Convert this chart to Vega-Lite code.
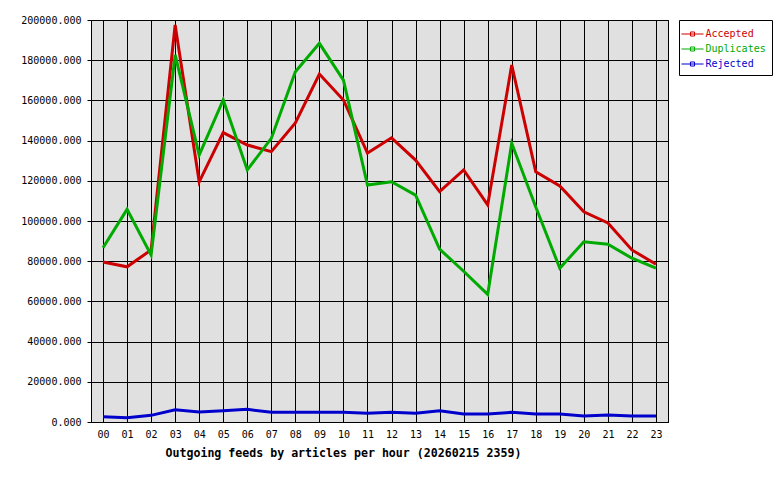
{
  "$schema": "https://vega.github.io/schema/vega-lite/v6.json",
  "width": 577,
  "height": 402,
  "autosize": "none",
  "padding": {"left": 91, "top": 20, "right": 112, "bottom": 58},
  "background": "white",
  "config": {
    "view": {"stroke": "black", "strokeWidth": 1, "fill": "#e0e0e0"},
    "font": "DejaVu Sans Mono"
  },
  "data": {
    "values": [
      {"hour": "00", "series": "Accepted", "value": 79600},
      {"hour": "01", "series": "Accepted", "value": 77200},
      {"hour": "02", "series": "Accepted", "value": 85600},
      {"hour": "03", "series": "Accepted", "value": 197500},
      {"hour": "04", "series": "Accepted", "value": 119500},
      {"hour": "05", "series": "Accepted", "value": 144000},
      {"hour": "06", "series": "Accepted", "value": 137800},
      {"hour": "07", "series": "Accepted", "value": 134500},
      {"hour": "08", "series": "Accepted", "value": 148800},
      {"hour": "09", "series": "Accepted", "value": 173100},
      {"hour": "10", "series": "Accepted", "value": 160200},
      {"hour": "11", "series": "Accepted", "value": 133800},
      {"hour": "12", "series": "Accepted", "value": 141400},
      {"hour": "13", "series": "Accepted", "value": 130300},
      {"hour": "14", "series": "Accepted", "value": 114600},
      {"hour": "15", "series": "Accepted", "value": 125400},
      {"hour": "16", "series": "Accepted", "value": 108000},
      {"hour": "17", "series": "Accepted", "value": 177600},
      {"hour": "18", "series": "Accepted", "value": 124500},
      {"hour": "19", "series": "Accepted", "value": 117400},
      {"hour": "20", "series": "Accepted", "value": 104600},
      {"hour": "21", "series": "Accepted", "value": 99000},
      {"hour": "22", "series": "Accepted", "value": 85600},
      {"hour": "23", "series": "Accepted", "value": 78500},
      {"hour": "00", "series": "Duplicates", "value": 86700},
      {"hour": "01", "series": "Duplicates", "value": 105800},
      {"hour": "02", "series": "Duplicates", "value": 83100},
      {"hour": "03", "series": "Duplicates", "value": 182600},
      {"hour": "04", "series": "Duplicates", "value": 132800},
      {"hour": "05", "series": "Duplicates", "value": 160200},
      {"hour": "06", "series": "Duplicates", "value": 125400},
      {"hour": "07", "series": "Duplicates", "value": 141100},
      {"hour": "08", "series": "Duplicates", "value": 174300},
      {"hour": "09", "series": "Duplicates", "value": 188400},
      {"hour": "10", "series": "Duplicates", "value": 170100},
      {"hour": "11", "series": "Duplicates", "value": 117900},
      {"hour": "12", "series": "Duplicates", "value": 119500},
      {"hour": "13", "series": "Duplicates", "value": 112900},
      {"hour": "14", "series": "Duplicates", "value": 86000},
      {"hour": "15", "series": "Duplicates", "value": 75000},
      {"hour": "16", "series": "Duplicates", "value": 63500},
      {"hour": "17", "series": "Duplicates", "value": 138700},
      {"hour": "18", "series": "Duplicates", "value": 107000},
      {"hour": "19", "series": "Duplicates", "value": 76500},
      {"hour": "20", "series": "Duplicates", "value": 89700},
      {"hour": "21", "series": "Duplicates", "value": 88400},
      {"hour": "22", "series": "Duplicates", "value": 81500},
      {"hour": "23", "series": "Duplicates", "value": 76500},
      {"hour": "00", "series": "Rejected", "value": 2600},
      {"hour": "01", "series": "Rejected", "value": 2100},
      {"hour": "02", "series": "Rejected", "value": 3300},
      {"hour": "03", "series": "Rejected", "value": 6100},
      {"hour": "04", "series": "Rejected", "value": 5000},
      {"hour": "05", "series": "Rejected", "value": 5600},
      {"hour": "06", "series": "Rejected", "value": 6300},
      {"hour": "07", "series": "Rejected", "value": 4800},
      {"hour": "08", "series": "Rejected", "value": 4800},
      {"hour": "09", "series": "Rejected", "value": 4800},
      {"hour": "10", "series": "Rejected", "value": 4800},
      {"hour": "11", "series": "Rejected", "value": 4300},
      {"hour": "12", "series": "Rejected", "value": 4800},
      {"hour": "13", "series": "Rejected", "value": 4300},
      {"hour": "14", "series": "Rejected", "value": 5600},
      {"hour": "15", "series": "Rejected", "value": 4000},
      {"hour": "16", "series": "Rejected", "value": 4000},
      {"hour": "17", "series": "Rejected", "value": 4800},
      {"hour": "18", "series": "Rejected", "value": 4000},
      {"hour": "19", "series": "Rejected", "value": 4000},
      {"hour": "20", "series": "Rejected", "value": 3000},
      {"hour": "21", "series": "Rejected", "value": 3500},
      {"hour": "22", "series": "Rejected", "value": 3000},
      {"hour": "23", "series": "Rejected", "value": 3000}
    ]
  },
  "mark": {"type": "line", "strokeWidth": 3, "interpolate": "linear"},
  "encoding": {
    "x": {
      "field": "hour",
      "type": "ordinal",
      "scale": {"type": "point", "padding": 0.5},
      "axis": {
        "title": "Outgoing feeds by articles per hour (20260215 2359)",
        "titleFont": "DejaVu Sans Mono",
        "titleFontWeight": "bold",
        "titleFontSize": 11.6,
        "titleColor": "black",
        "titleAnchor": "start",
        "titleAlign": "left",
        "titleX": 74,
        "titleY": 34,
        "titleBaseline": "alphabetic",
        "labelAngle": 0,
        "labelFont": "DejaVu Sans Mono",
        "labelFontSize": 10,
        "labelColor": "black",
        "labelPadding": 7,
        "ticks": false,
        "domainColor": "black",
        "grid": true,
        "gridColor": "black",
        "gridOpacity": 1,
        "gridWidth": 1
      }
    },
    "y": {
      "field": "value",
      "type": "quantitative",
      "scale": {"domain": [0, 200000], "nice": false},
      "axis": {
        "title": null,
        "values": [0, 20000, 40000, 60000, 80000, 100000, 120000, 140000, 160000, 180000, 200000],
        "format": ".3f",
        "labelFont": "DejaVu Sans Mono",
        "labelFontSize": 10,
        "labelColor": "black",
        "labelPadding": 6,
        "tickSize": 4,
        "tickColor": "black",
        "domainColor": "black",
        "gridColor": "black",
        "gridOpacity": 1,
        "gridWidth": 1
      }
    },
    "color": {
      "field": "series",
      "type": "nominal",
      "scale": {"domain": ["Accepted", "Duplicates", "Rejected"], "range": ["#cc0000", "#00aa00", "#0000cc"]},
      "legend": {
        "title": null,
        "orient": "none",
        "legendX": 588,
        "legendY": 0,
        "strokeColor": "black",
        "fillColor": "white",
        "padding": 6,
        "labelFont": "DejaVu Sans Mono",
        "labelFontSize": 10,
        "labelOffset": 5,
        "rowPadding": 2,
        "symbolType": "M -1.47 0 L 1.47 0 M -0.27 -0.27 L 0.27 -0.27 L 0.27 0.27 L -0.27 0.27 Z",
        "symbolSize": 225,
        "symbolStrokeWidth": 1,
        "symbolFillColor": "transparent",
        "symbolOffset": -0.5,
        "encode": {
          "labels": {"update": {"fill": {"scale": "color", "field": "value"}}},
          "symbols": {"update": {"fill": {"value": "transparent"}}}
        }
      }
    }
  }
}
